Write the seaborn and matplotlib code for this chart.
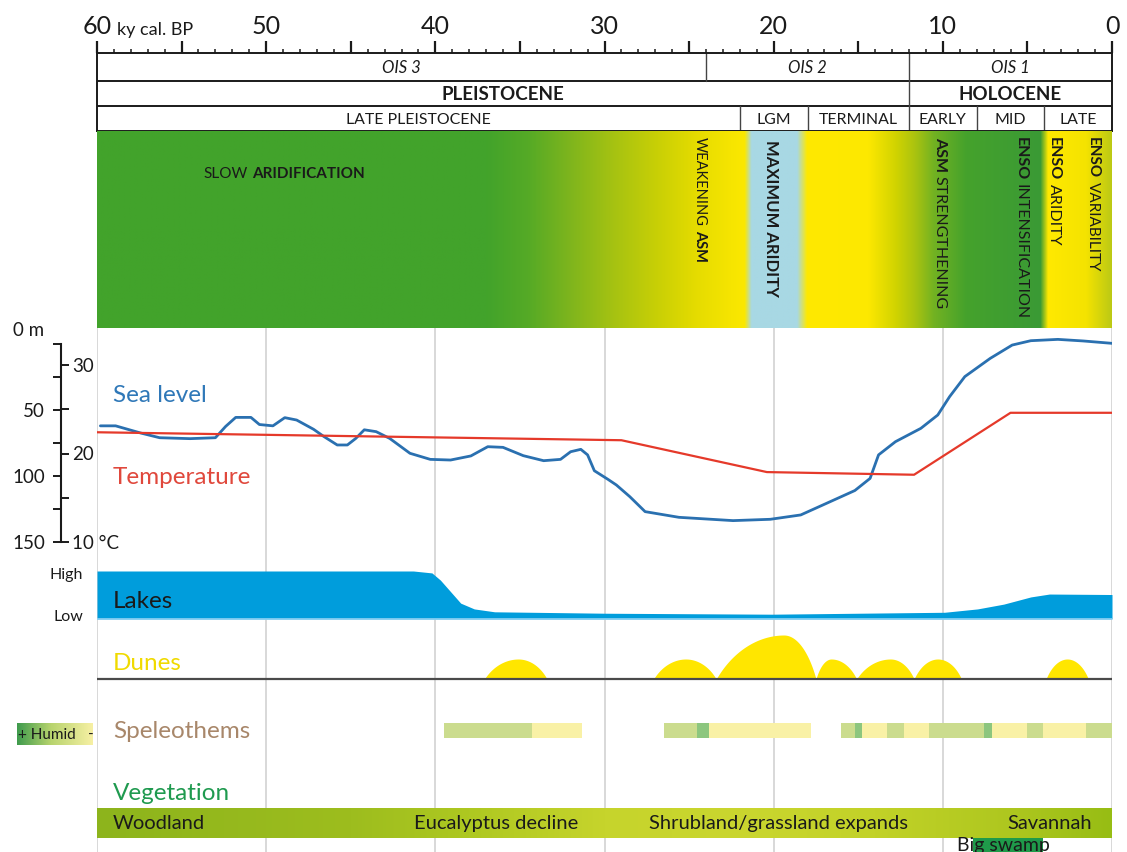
import numpy as np
import matplotlib
matplotlib.use("Agg")
import matplotlib.pyplot as plt
import seaborn as sns
from matplotlib.colors import to_rgb
from matplotlib.ticker import MultipleLocator, FuncFormatter, FixedLocator

sns.set_theme(style="white")
plt.rcParams['font.family'] = ['Lato', 'DejaVu Sans']

# ---------------------------------------------------------------- data
# time scale (ky cal. BP)
AGE_MAX, AGE_MIN = 60, 0

# chronostratigraphic header
ois_names = ["OIS 3", "OIS 2", "OIS 1"]
ois_bounds = [(60, 24), (24, 12), (12, 0)]
epoch_names = ["PLEISTOCENE", "HOLOCENE"]
epoch_bounds = [(60, 12), (12, 0)]
stage_names = ["LATE PLEISTOCENE", "LGM", "TERMINAL", "EARLY", "MID", "LATE"]
stage_bounds = [(60, 22), (22, 18), (18, 12), (12, 8), (8, 4), (4, 0)]

# climate colour ribbon (green = humid, yellow = arid, blue = LGM)
climate_stop_age = [60, 37, 34.5, 32, 29.5, 27, 24.5, 22.5, 21.7, 21.3, 18.6, 18.0,
                    14.4, 12.8, 11.6, 10.5, 8.6, 4.2, 3.75, 1.5, 0]
climate_stop_color = ["#42a32b", "#42a32b", "#55aa26", "#7fb51d", "#a5c212", "#c7cf06",
                      "#e6dc00", "#f6e500", "#fbe800", "#a8d8e4", "#a8d8e4", "#ffe900",
                      "#fde800", "#d2d400", "#a9c310", "#72b222", "#45a22c", "#3a9a35",
                      "#ffe900", "#f4e300", "#bcc915"]

# sea level (m below present)
sea_age = [59.8, 58.9, 57.4, 56.3, 54.5, 53.0, 52.4, 51.8, 50.9, 50.4, 49.6, 48.9, 48.2,
           47.2, 46.6, 45.8, 45.2, 44.7, 44.2, 43.5, 42.7, 41.5, 40.3, 39.1, 37.9, 36.9,
           36.0, 34.8, 33.6, 32.6, 32.0, 31.4, 31.0, 30.6, 29.8, 29.3, 28.5, 27.6, 25.6,
           22.4, 20.2, 18.4, 17.1, 15.2, 14.3, 13.8, 12.8, 11.3, 10.3, 9.6, 8.7, 7.2, 5.9,
           4.8, 3.2, 1.7, 0.0]
sea_depth = [62, 62, 67.5, 71, 71.7, 71, 62.5, 55.6, 55.6, 61, 62, 55.8, 57.6,
             64.6, 70, 76.5, 76.5, 71.5, 65, 66.4, 71.5, 82.8, 87.4, 87.9, 84.8, 77.8,
             78.3, 84.6, 88.4, 87.4, 81.6, 79.8, 84, 96, 102.5, 106.8, 115.7, 127, 131.3,
             133.8, 132.8, 129.5, 122, 111, 101.8, 84, 74, 63.9, 53.8, 39.9, 24.7, 10.9, 0.8,
             -2.5, -3.5, -2.3, -0.5]

# temperature (deg C)
temp_age = [60, 29, 20.4, 11.7, 6, 0]
temp_c = [22.4, 21.5, 17.9, 17.6, 24.6, 24.6]

# relative lake level (0 = low, 1 = high)
lake_age = [60, 41.3, 40.2, 39.7, 39.1, 38.5, 37.7, 36.5, 29.9, 20.1, 9.9, 7.95, 6.4, 4.8, 3.7, 0]
lake_level = [1.0, 1.0, 0.96, 0.81, 0.57, 0.33, 0.21, 0.15, 0.12, 0.10, 0.14, 0.21, 0.31,
              0.46, 0.52, 0.51]

# dune-building phases
dune_start = [37.1, 27.1, 23.4, 17.5, 15.1, 11.7, 3.9]
dune_peak = [35.1, 25.2, 19.4, 16.6, 13.1, 10.3, 2.65]
dune_end = [33.4, 23.4, 17.5, 15.1, 11.7, 8.9, 1.4]
dune_height = [1.0, 1.0, 2.2, 1.0, 1.0, 1.0, 1.0]

# speleothem humidity record
spel_start = [39.5, 34.3, 26.5, 24.55, 23.8, 16.0, 15.2, 14.8, 13.3, 12.3, 10.8, 7.55, 7.1,
              5.0, 4.05, 1.55]
spel_end = [34.3, 31.35, 24.55, 23.8, 17.8, 15.2, 14.8, 13.3, 12.3, 10.8, 7.55, 7.1, 5.0,
            4.05, 1.55, 0.0]
spel_class = ["mid", "dry", "mid", "wet", "dry", "mid", "wet", "dry", "mid", "dry", "mid",
              "wet", "dry", "mid", "dry", "mid"]
spel_palette = {"wet": "#8cc67e", "mid": "#cbdc8e", "dry": "#f9f1a6"}

# vegetation
veg_stop_age = [60, 45, 38, 30, 22, 14, 6, 0]
veg_stop_color = ["#8db41c", "#9dbd1e", "#aec821", "#c6d42c", "#cad62f", "#c2d228",
                  "#aec71f", "#97bd14"]
veg_labels = ["Woodland", "Eucalyptus decline", "Shrubland/grassland expands", "Savannah"]
veg_label_age = [59.05, 36.4, 19.7, 3.7]
veg_label_ha = ["left", "center", "center", "center"]
swamp_span = (8.2, 4.1)

# ---------------------------------------------------------------- layout helpers
W, H = 1127, 852
X0, X1 = 97, 1112
fig = plt.figure(figsize=(W / 100, H / 100), dpi=100)
INK = "#1a1a1a"
PANEL_SIZE = 17.5


def px_axes(top, bottom, left=X0, right=X1):
    ax = fig.add_axes([left / W, 1 - bottom / H, (right - left) / W, (bottom - top) / H])
    ax.set_facecolor("none")
    return ax


def ftext(x, y, s, **kw):
    return fig.text(x / W, 1 - y / H, s, **kw)


def bare(ax):
    ax.set_xticks([])
    ax.set_yticks([])
    for s in ax.spines.values():
        s.set_visible(False)


def gradient(ages, stop_age, stop_color):
    sa = np.asarray(stop_age, float)[::-1]
    rgb = np.array([to_rgb(c) for c in stop_color])[::-1]
    return np.stack([np.interp(ages, sa, rgb[:, i]) for i in range(3)], axis=-1)[None]


def chain_text(ax, x, y, parts, vertical, size, gap=3.0):
    prev = None
    for s, w in parts:
        if prev is None:
            if vertical:
                prev = ax.text(x, y, s, rotation=-90, ha="center", va="top", weight=w,
                               size=size, color=INK)
            else:
                prev = ax.text(x, y, s, ha="left", va="center", weight=w, size=size, color=INK)
        else:
            if vertical:
                prev = ax.annotate(s, xy=(0.5, 0), xycoords=prev, xytext=(0, -gap),
                                   textcoords="offset points", rotation=-90, ha="center",
                                   va="top", weight=w, size=size, color=INK)
            else:
                prev = ax.annotate(s, xy=(1, 0.5), xycoords=prev, xytext=(gap, 0),
                                   textcoords="offset points", ha="left", va="center",
                                   weight=w, size=size, color=INK)


# ---------------------------------------------------------------- background grid
ax_bg = px_axes(328, 852)
ax_bg.set_xlim(AGE_MAX, AGE_MIN)
ax_bg.set_ylim(0, 1)
bare(ax_bg)
for a in range(0, 61, 10):
    ax_bg.axvline(a, color="#d2d2d2", lw=1.2)

# ---------------------------------------------------------------- header with time axis
ax_h = px_axes(53, 131)
ax_h.set_xlim(AGE_MAX, AGE_MIN)
ax_h.set_ylim(131, 53)
ax_h.set_yticks([])
ax_h.tick_params(axis="x", top=True, labeltop=True, bottom=False, labelbottom=False)
ax_h.xaxis.set_major_locator(MultipleLocator(5))
ax_h.xaxis.set_minor_locator(MultipleLocator(1))
ax_h.xaxis.set_major_formatter(
    FuncFormatter(lambda v, p: f"{int(round(v))}" if int(round(v)) % 10 == 0 else ""))
ax_h.tick_params(axis="x", which="major", direction="out", length=9, width=1.6,
                 labelsize=18, pad=2, colors=INK)
ax_h.tick_params(axis="x", which="minor", top=True, bottom=False, direction="out",
                 length=3, width=1.1, colors=INK)
for s in ax_h.spines.values():
    s.set_color(INK)
    s.set_linewidth(1.4)
ax_h.axhline(81, color=INK, lw=1.4)
ax_h.axhline(106, color=INK, lw=1.4)

rows = [(53, 81, ois_names, ois_bounds, dict(style="italic", size=12)),
        (81, 106, epoch_names, epoch_bounds, dict(weight="bold", size=13.5)),
        (106, 131, stage_names, stage_bounds, dict(size=11.4))]
for top, bot, names, bounds, fmt in rows:
    for name, (a0, a1) in zip(names, bounds):
        ax_h.text((a0 + a1) / 2, (top + bot) / 2 + 1, name, ha="center", va="center",
                  color=INK, **fmt)
        if 0 < a1 < 60:
            ax_h.plot([a1, a1], [top, bot], color="#444444", lw=1.0)
ftext(117, 30, "ky cal. BP", ha="left", va="center", size=13, color=INK)

# ---------------------------------------------------------------- climate ribbon
ax_c = px_axes(131, 328)
ages_fine = np.linspace(AGE_MAX, AGE_MIN, 1200)
ax_c.imshow(gradient(ages_fine, climate_stop_age, climate_stop_color),
            extent=(AGE_MAX, AGE_MIN, 328, 131), aspect="auto", interpolation="bilinear")
ax_c.set_xlim(AGE_MAX, AGE_MIN)
ax_c.set_ylim(328, 131)
bare(ax_c)

chain_text(ax_c, 53.7, 174, [("SLOW", "normal"), ("ARIDIFICATION", "bold")], False, 11)
climate_notes = [
    (24.35, 137, [("WEAKENING", "normal"), ("ASM", "bold")], 10.5),
    (20.15, 140, [("MAXIMUM ARIDITY", "bold")], 12),
    (10.17, 137, [("ASM", "bold"), ("STRENGTHENING", "normal")], 11.5),
    (5.38, 137, [("ENSO", "bold"), ("INTENSIFICATION", "normal")], 11.5),
    (3.43, 137, [("ENSO", "bold"), ("ARIDITY", "normal")], 11.5),
    (1.12, 137, [("ENSO", "bold"), ("VARIABILITY", "normal")], 11),
]
for a, y, parts, size in climate_notes:
    chain_text(ax_c, a, y, parts, True, size)

# ---------------------------------------------------------------- sea level & temperature
ax_s = px_axes(328, 560)
sns.lineplot(x=sea_age, y=sea_depth, ax=ax_s, color="#2a70b0", lw=2.0, sort=False,
             estimator=None)
ax_s.lines[-1].set_solid_joinstyle("round")
ax_s.set_xlim(AGE_MAX, AGE_MIN)
ax_s.set_ylim((560 - 344) / 1.32, (328 - 344) / 1.32)
ax_s.set_xlabel("")
ax_s.set_ylabel("")
ax_s.set_xticks([])
for k, s in ax_s.spines.items():
    s.set_visible(k == "left")
ax_s.spines["left"].set_position(("axes", -(X0 - 61) / (X1 - X0)))
ax_s.spines["left"].set_bounds(0, 150)
ax_s.spines["left"].set_color(INK)
ax_s.spines["left"].set_linewidth(1.5)
ax_s.yaxis.set_major_locator(FixedLocator([0, 25, 50, 75, 100, 125, 150]))
ax_s.set_yticklabels(["", "", "50", "", "100", "", "150"])
ax_s.tick_params(axis="y", left=True, direction="out", length=6, width=1.4, pad=5.5,
                 labelsize=13.5, colors=INK)

ax_t = ax_s.twinx()
ax_t.set_facecolor("none")
sns.lineplot(x=temp_age, y=temp_c, ax=ax_t, color="#e5392a", lw=1.6, sort=False,
             estimator=None)
ax_t.set_xlim(AGE_MAX, AGE_MIN)
ax_t.set_ylim(10 - (560 - 542) / 8.85, 10 + (542 - 328) / 8.85)
ax_t.set_xlabel("")
ax_t.set_ylabel("")
ax_t.set_xticks([])
for s in ax_t.spines.values():
    s.set_visible(False)
ax_t.yaxis.set_ticks_position("left")
ax_t.spines["left"].set_position(("axes", -(X0 - 61) / (X1 - X0)))
ax_t.yaxis.set_major_locator(FixedLocator([10, 15, 20, 25, 30]))
ax_t.set_yticklabels(["10 °C", "", "20", "", "30"])
ax_t.tick_params(axis="y", left=True, right=False, labelleft=True, labelright=False,
                 direction="in", length=6, width=1.4, pad=-8, labelsize=13.5, colors=INK)
for lbl in ax_t.get_yticklabels():
    lbl.set_horizontalalignment("left")

ftext(13, 331, "0 m", ha="left", va="center", size=13.5, color=INK)
ftext(113, 395, "Sea level", ha="left", va="center", size=PANEL_SIZE, color="#2f78b8")
ftext(113, 478, "Temperature", ha="left", va="center", size=PANEL_SIZE, color="#e0483c")

# ---------------------------------------------------------------- lakes
ax_l = px_axes(560, 620)
ax_l.fill_between(lake_age, 0, lake_level, color="#009ddc", lw=0)
ax_l.axhline(0, color="#8fd3f4", lw=1.2)
ax_l.set_xlim(AGE_MAX, AGE_MIN)
ax_l.set_ylim((619 - 620) / 48, (619 - 560) / 48)
bare(ax_l)
ftext(113, 602, "Lakes", ha="left", va="center", size=PANEL_SIZE, color=INK)
ftext(83, 575, "High", ha="right", va="center", size=11.5, color=INK)
ftext(83, 617, "Low", ha="right", va="center", size=11.5, color=INK)

# ---------------------------------------------------------------- dunes
ax_d = px_axes(620, 700)


def dune_profile(a0, ap, a1, h, n=60, k=0.8):
    base = np.sqrt(1 - k ** 2)
    left = np.linspace(a0, ap, n)
    right = np.linspace(ap, a1, n)[1:]
    t = np.concatenate([(left - ap) / (a0 - ap), (right - ap) / (a1 - ap)])
    y = h * (np.sqrt(1 - (k * t) ** 2) - base) / (1 - base)
    return np.concatenate([left, right]), y


for a0, ap, a1, h in zip(dune_start, dune_peak, dune_end, dune_height):
    xs, ys = dune_profile(a0, ap, a1, h)
    ax_d.fill_between(xs, 0, ys, color="#ffe600", lw=0)
ax_d.axhline(0, color="#4a4a4a", lw=1.6)
ax_d.set_xlim(AGE_MAX, AGE_MIN)
ax_d.set_ylim(-(700 - 679) / 20, (679 - 620) / 20)
bare(ax_d)
ftext(113, 664, "Dunes", ha="left", va="center", size=PANEL_SIZE, color="#f0da00")

# ---------------------------------------------------------------- speleothems
ax_p = px_axes(700, 770)
ax_p.barh([0] * len(spel_start), width=np.subtract(spel_start, spel_end), left=spel_end,
          height=1.0, color=[spel_palette[c] for c in spel_class], lw=0)
ax_p.set_xlim(AGE_MAX, AGE_MIN)
ax_p.set_ylim((730.5 - 770) / 15, (730.5 - 700) / 15)
bare(ax_p)
ftext(113, 732, "Speleothems", ha="left", va="center", size=PANEL_SIZE, color="#a8876a")

ax_key = px_axes(723, 745, left=17, right=93)
ax_key.imshow(gradient(np.linspace(1, 0, 200), [1, 0.55, 0],
                       ["#3f9b4d", "#b8d46e", "#f7f0a4"]),
              extent=(1, 0, 0, 1), aspect="auto", interpolation="bilinear")
ax_key.set_xlim(1, 0)
ax_key.set_ylim(0, 1)
bare(ax_key)
ftext(18, 735, "+ Humid", ha="left", va="center", size=11, color=INK)
ftext(88, 735, "-", ha="left", va="center", size=11, color=INK)

# ---------------------------------------------------------------- vegetation
ax_v = px_axes(770, 852)
ax_v.imshow(gradient(ages_fine, veg_stop_age, veg_stop_color),
            extent=(AGE_MAX, AGE_MIN, 0, 1), aspect="auto", interpolation="bilinear")
ax_v.fill_between(list(swamp_span), -1, 0, color="#1f9a4a", lw=0)
ax_v.set_xlim(AGE_MAX, AGE_MIN)
ax_v.set_ylim((838 - 852) / 29, (838 - 770) / 29)
bare(ax_v)
for lab, a, ha in zip(veg_labels, veg_label_age, veg_label_ha):
    ax_v.text(a, 0.5, lab, ha=ha, va="center", size=14.5, color=INK)
ax_v.text(9.16, -0.26, "Big swamp", ha="left", va="center", size=14, color=INK)
ftext(113, 793, "Vegetation", ha="left", va="center", size=PANEL_SIZE, color="#1f9a4f")

fig.savefig("out.png", dpi=100)
